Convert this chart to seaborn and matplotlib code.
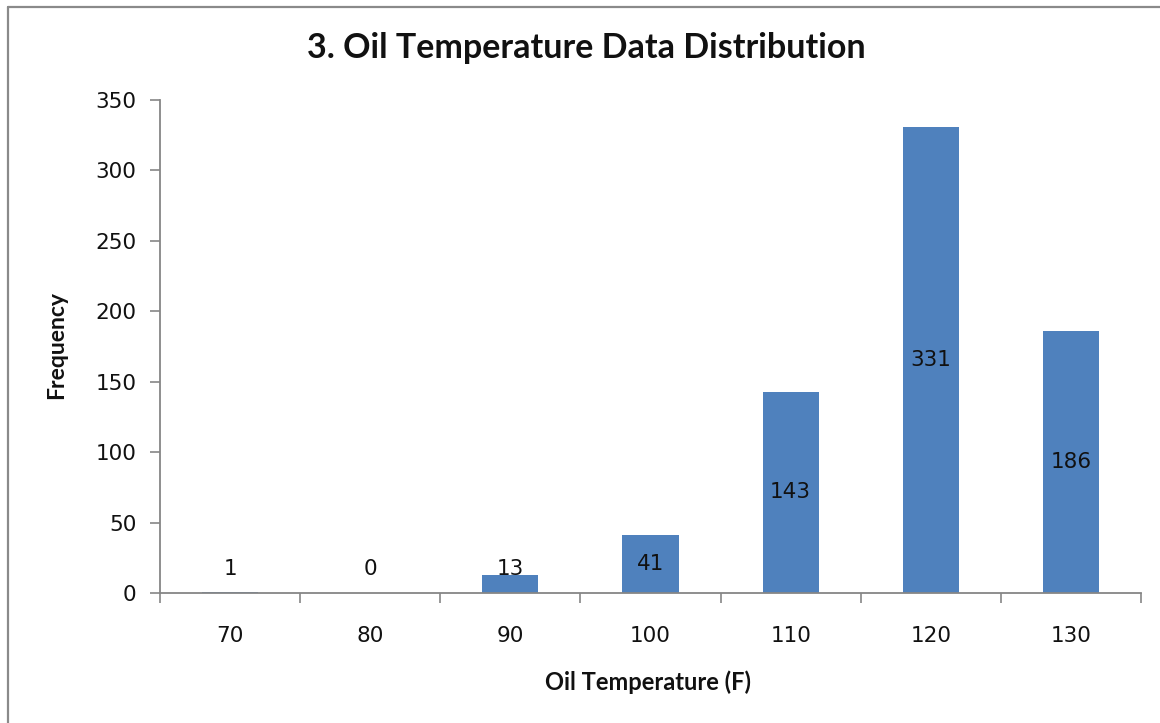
import matplotlib
matplotlib.use("Agg")
import matplotlib.pyplot as plt
from matplotlib.lines import Line2D
from matplotlib.ticker import FixedLocator, MultipleLocator
import seaborn as sns
import pandas as pd

# Oil temperature bins (F) and observed counts
temperatures = ["70", "80", "90", "100", "110", "120", "130"]
frequencies = [1, 0, 13, 41, 143, 331, 186]

title_text = "3. Oil Temperature Data Distribution"
x_label = "Oil Temperature (F)"
y_label = "Frequency"

BAR_COLOR = "#4F81BD"
AXIS_COLOR = "#868686"
TEXT_COLOR = "#111111"
W, H = 1160, 723
AX_L, AX_R, AX_T, AX_B = 160, 1141, 100, 593

sns.set_style("white")
plt.rcParams["font.family"] = ["DejaVu Sans"]

fig = plt.figure(figsize=(W / 100, H / 100), dpi=100)
ax = fig.add_axes([AX_L / W, (H - AX_B) / H, (AX_R - AX_L) / W, (AX_B - AX_T) / H])

df = pd.DataFrame({"temp": temperatures, "freq": frequencies})
sns.barplot(data=df, x="temp", y="freq", order=temperatures, color=BAR_COLOR,
            saturation=1, width=0.4, ax=ax, errorbar=None, linewidth=0)

ax.set_xlim(-0.5, len(temperatures) - 0.5)
ax.set_ylim(0, 350)
ax.yaxis.set_major_locator(MultipleLocator(50))

# spines: only left and bottom, in gray
for side in ("top", "right"):
    ax.spines[side].set_visible(False)
for side in ("left", "bottom"):
    ax.spines[side].set_color(AXIS_COLOR)
    ax.spines[side].set_linewidth(1.3)

# category separators as minor ticks on the x axis
ax.xaxis.set_minor_locator(FixedLocator([i - 0.5 for i in range(len(temperatures) + 1)]))
ax.tick_params(axis="x", which="major", length=0, pad=24, labelsize=15.5, labelcolor=TEXT_COLOR)
ax.tick_params(axis="x", which="minor", length=7, width=1.2, color=AXIS_COLOR, direction="out")
ax.tick_params(axis="y", which="major", length=7, width=1.2, color=AXIS_COLOR, direction="out",
               pad=10, labelsize=15.5, labelcolor=TEXT_COLOR)
ax.tick_params(bottom=True, left=True, which="both")

ax.set_xlabel(x_label, fontsize=17, fontweight="bold", family="Lato", color=TEXT_COLOR)
ax.set_ylabel(y_label, fontsize=16.5, fontweight="bold", family="Lato", color=TEXT_COLOR)
ax_w, ax_h = AX_R - AX_L, AX_B - AX_T
ax.xaxis.set_label_coords((648 - AX_L) / ax_w, -(670 - AX_B) / ax_h)
ax.yaxis.set_label_coords((67 - AX_L) / ax_w, (AX_B - 345) / ax_h)

# value labels, centred in each bar (kept clear of the axis for short bars)
for i, v in enumerate(frequencies):
    ax.text(i, max(v / 2, 17), str(v), ha="center", va="center",
            fontsize=15.5, color=TEXT_COLOR)

fig.text(586 / W, 1 - 48 / H, title_text, ha="center", va="center",
         fontsize=24.5, fontweight="bold", family="Lato", color=TEXT_COLOR)

# outer chart frame (left and top edges)
fig.add_artist(Line2D([8 / W, 8 / W], [0, 1 - 7 / H], transform=fig.transFigure,
                      color="#8a8a8a", lw=1.6))
fig.add_artist(Line2D([8 / W, 1], [1 - 7 / H, 1 - 7 / H], transform=fig.transFigure,
                      color="#8a8a8a", lw=1.6))

fig.savefig("out.png", dpi=100)
